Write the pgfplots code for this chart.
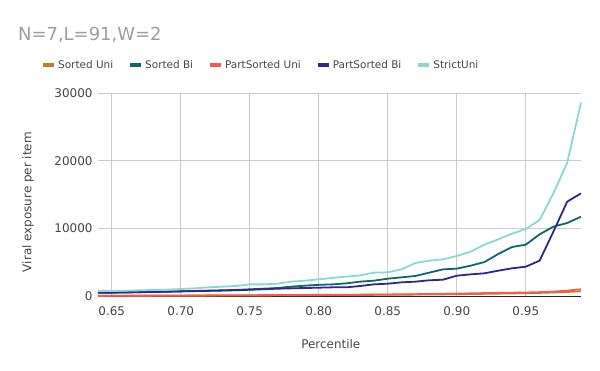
\documentclass[border=0pt]{standalone}
\usepackage{fontspec}
\setmainfont{DejaVu Sans}
\usepackage{pgfplots}
\pgfplotsset{compat=1.18}
\usepackage{pgfplotstable}

\definecolor{sortuni}{HTML}{C27B20}
\definecolor{sortbi}{HTML}{12646D}
\definecolor{partuni}{HTML}{F45B57}
\definecolor{partbi}{HTML}{2B2A8A}
\definecolor{strictuni}{HTML}{8CD8D1}
\definecolor{titlegray}{HTML}{9E9E9E}
\definecolor{textgray}{HTML}{444444}
\definecolor{gridgray}{HTML}{CCCCCC}

% percentile vs viral exposure per item
\pgfplotstableread{
x     strict sortbi partbi partuni sortuni
0.64  740    490    480    40      20
0.65  740    500    490    45      25
0.66  790    530    520    50      30
0.67  840    570    560    55      35
0.68  890    600    590    60      40
0.69  940    640    630    65      45
0.70  1030   690    680    70      50
0.71  1130   740    720    80      55
0.72  1280   790    760    90      60
0.73  1380   840    800    100     65
0.74  1480   900    850    110     70
0.75  1720   985    920    120     80
0.76  1720   1080   1000   130     90
0.77  1820   1180   1080   140     100
0.78  2120   1380   1130   150     110
0.79  2270   1530   1180   160     120
0.80  2460   1650   1230   170     130
0.81  2680   1720   1280   180     140
0.82  2860   1870   1280   190     150
0.83  3050   2120   1480   200     160
0.84  3450   2270   1720   215     170
0.85  3500   2560   1820   230     180
0.86  3940   2760   2020   250     195
0.87  4880   2960   2120   270     210
0.88  5220   3450   2320   290     225
0.89  5420   3940   2410   310     240
0.90  5910   4040   3000   350     260
0.91  6550   4480   3200   390     290
0.92  7590   5020   3350   430     320
0.93  8370   6200   3740   460     350
0.94  9210   7240   4090   490     380
0.95  9900   7590   4330   520     420
0.96  11230  9110   5220   570     460
0.97  15170  10250  9510   650     520
0.98  19700  10790  13940  800     600
0.99  28570  11720  15170  1000    700
}\data

\begin{document}
\begin{tikzpicture}
\useasboundingbox (0bp,0bp) rectangle (600bp,371bp);
\node[anchor=base west, inner sep=0, text=titlegray,
      font=\fontsize{18}{20}\selectfont] at (18bp,330bp) {N=7,L=91,W=2};
\begin{axis}[
    at={(98bp,75bp)}, anchor=south west,
    scale only axis, width=483bp, height=203bp,
    xmin=0.64, xmax=0.99,
    ymin=0, ymax=30000,
    xtick={0.65,0.70,0.75,0.80,0.85,0.90,0.95},
    ytick={0,10000,20000,30000},
    x tick label style={/pgf/number format/fixed, /pgf/number format/fixed zerofill,
        /pgf/number format/precision=2},
    y tick label style={/pgf/number format/1000 sep={}},
    /pgf/number format/assume math mode=true,
    scaled x ticks=false, scaled y ticks=false,
    major tick length=0pt,
    ticklabel style={font=\fontsize{12}{14}\selectfont, text=textgray},
    xticklabel style={yshift=-7bp},
    yticklabel style={xshift=-2bp},
    grid=major,
    grid style={gridgray, line width=0.8bp},
    axis x line*=bottom,
    axis y line*=left,
    x axis line style={-, black!85, line width=0.9bp},
    y axis line style={draw=none},
    xlabel={Percentile},
    ylabel={Viral exposure per item},
    label style={font=\fontsize{12}{14}\selectfont, text=textgray},
    xlabel style={at={(axis description cs:0.482,-0.236)}, anchor=center},
    ylabel style={at={(axis description cs:-0.145,0.463)}, anchor=center},
    clip=false,
    legend columns=5,
    legend cell align=left,
    legend image code/.code={\draw[#1, line width=4bp] (0bp,0bp) -- (11bp,0bp);},
    legend style={at={(axis description cs:0.337,1.138)}, anchor=center,
        draw=none, fill=none, font=\fontsize{10.5}{12}\selectfont, text=textgray,
        /tikz/every even column/.append style={column sep=13bp}},
    every axis plot/.append style={line width=1.8bp},
]
\addplot[sortuni] table[x=x, y=sortuni] {\data};
\addlegendentry{Sorted Uni}
\addplot[sortbi] table[x=x, y=sortbi] {\data};
\addlegendentry{Sorted Bi}
\addplot[partuni] table[x=x, y=partuni] {\data};
\addlegendentry{PartSorted Uni}
\addplot[partbi] table[x=x, y=partbi] {\data};
\addlegendentry{PartSorted Bi}
\addplot[strictuni] table[x=x, y=strict] {\data};
\addlegendentry{StrictUni}
\end{axis}
\end{tikzpicture}
\end{document}
